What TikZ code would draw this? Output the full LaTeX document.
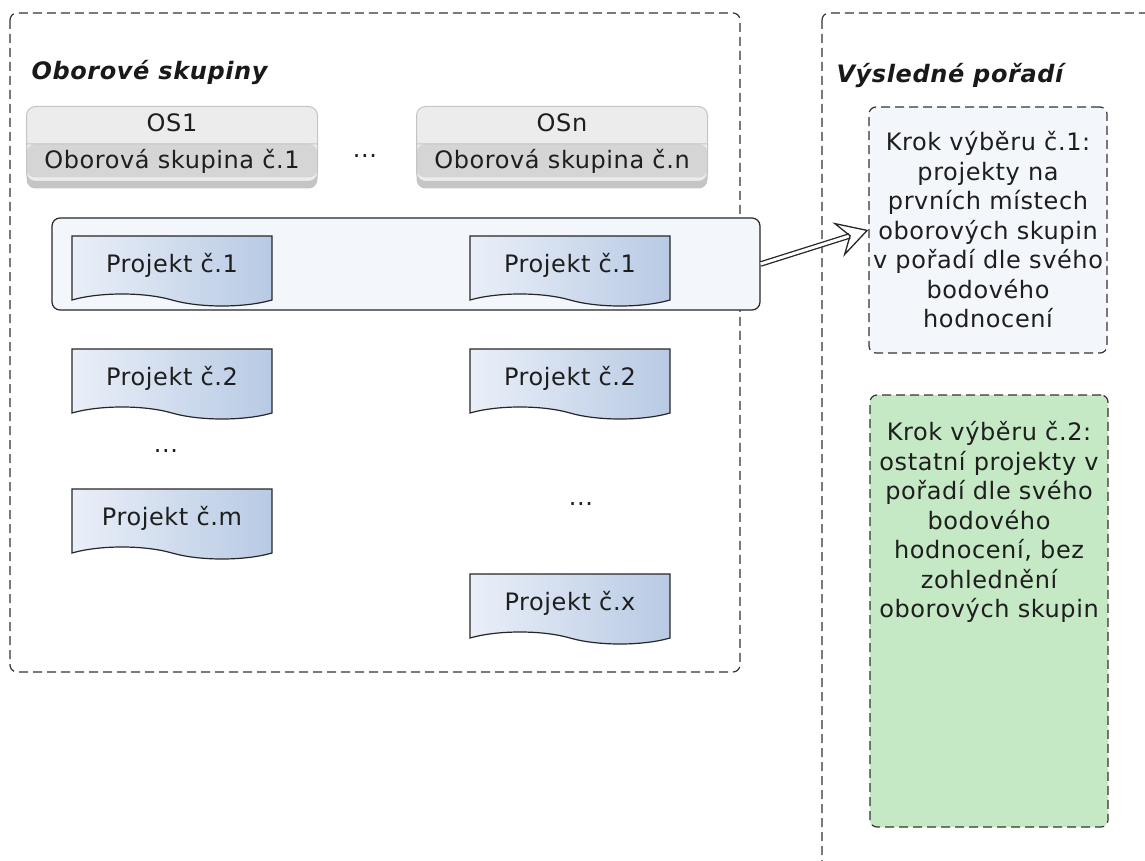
\documentclass[tikz,border=0pt]{standalone}
\usepackage{fontspec}
\setmainfont{DejaVu Sans}[ItalicFont={DejaVu Sans Oblique},BoldItalicFont={DejaVu Sans Bold Oblique},LetterSpace=2.5]
\usetikzlibrary{arrows.meta,shapes.multipart,shapes.symbols,shadows}
\definecolor{osTop}{RGB}{236,236,236}
\definecolor{osBottom}{RGB}{213,213,213}
\definecolor{osBorder}{RGB}{196,196,196}
\definecolor{projLeft}{RGB}{234,239,248}
\definecolor{projRight}{RGB}{184,202,228}
\definecolor{paleBlue}{RGB}{243,246,251}
\definecolor{paleGreen}{RGB}{197,232,197}
\definecolor{inkGray}{RGB}{30,30,30}
\newcommand\txtsize{\fontsize{24}{29.5}\selectfont}
\tikzset{
    >=Stealth,
    frame/.style={draw=black!80,dash pattern=on 9pt off 5pt,line width=1.2pt,rounded corners=7pt},
    heading/.style={anchor=west,font=\txtsize\bfseries\itshape,text=black!90},
    stacked/.style={rectangle split,rectangle split parts=2,fill=osTop,draw=osBorder,line width=1pt,rounded corners=9pt,minimum width=291pt,font=\txtsize\strut,inner ysep=3.5pt,text=inkGray,
        path picture={\fill[osBottom] (path picture bounding box.west) rectangle ([yshift=4pt]path picture bounding box.south east);},
        drop shadow={shadow xshift=0pt,shadow yshift=-7pt,fill=black!45,opacity=0.5}},
    projekt/.style={tape,tape bend top=none,tape bend bottom=out and in,tape bend height=12pt,draw=black!85,line width=1.2pt,left color=projLeft,right color=projRight,minimum width=200pt,minimum height=70pt,text=inkGray},
    krok/.style={frame,text=inkGray,align=center,minimum width=238pt},
    implies/.style={draw=black!85,line width=1.3pt,double=white,double distance=3pt,-{Stealth[open,length=32pt,width=36pt,inset=12pt]}}
}
\begin{document}
\begin{tikzpicture}[x=1pt,y=-1pt,every node/.append style={font=\txtsize}]
  \useasboundingbox (0,0) rectangle (1145,861);
  \clip (0,0) rectangle (1145,861);
  \draw[frame] (10,13) rectangle (740,672);
  \draw[frame] (822,13) rectangle (1170,900);

  \node[heading] (oborove) at (28,72) {Oborové skupiny};
  \node[heading] (poradi) at (833,75) {Výsledné pořadí};

  \node[stacked] (os1) at (172,144) {OS1\nodepart{two}Oborová skupina č.1};
  \node[stacked] (osn) at (562,144) {OSn\nodepart{two}Oborová skupina č.n};
  \node[text=inkGray] (dotsOS) at (365,156) {...};

  \node[draw=black!85,line width=1.2pt,rounded corners=8pt,fill=paleBlue,minimum width=708pt,minimum height=92pt] (prvni) at (406,264) {};

  \node[projekt] (p1a) at (172,265) {Projekt č.1};
  \node[projekt] (p1b) at (570,265) {Projekt č.1};
  \node[projekt] (p2a) at (172,378) {Projekt č.2};
  \node[projekt] (p2b) at (570,378) {Projekt č.2};
  \node[text=inkGray] (dotsA) at (166,451) {...};
  \node[projekt] (pm) at (172,518) {Projekt č.m};
  \node[text=inkGray] (dotsB) at (581,504) {...};
  \node[projekt] (px) at (570,603) {Projekt č.x};

  \node[krok,fill=paleBlue,minimum height=246pt] (krok1) at (988,230) {Krok výběru č.1:\\projekty na\\prvních místech\\oborových skupin\\v pořadí dle svého\\bodového\\hodnocení};
  \node[krok,fill=paleGreen,minimum height=432pt] (krok2) at (989,611) {};
  \node[text=inkGray,align=center,anchor=north,inner sep=0pt] (krok2txt) at ([yshift=-27pt]krok2.north) {Krok výběru č.2:\\ostatní projekty v\\pořadí dle svého\\bodového\\hodnocení, bez\\zohlednění\\oborových skupin};

  \draw[implies] (prvni.east) -- (krok1.west);
\end{tikzpicture}
\end{document}
